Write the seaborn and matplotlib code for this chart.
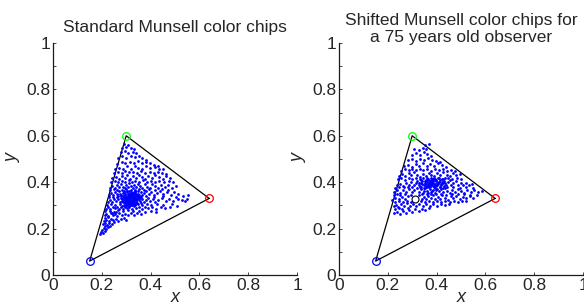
import matplotlib
matplotlib.use("Agg")
import matplotlib.pyplot as plt
import pandas as pd
import seaborn as sns

# sRGB primaries and white point (CIE xy)
primary_x = [0.64, 0.30, 0.15]
primary_y = [0.33, 0.60, 0.06]
primary_colors = ["red", "lime", "blue"]
white_x = [0.3127]
white_y = [0.3290]

# Munsell chips, standard observer
std_chips = [
    (0.193, 0.178), (0.198, 0.186), (0.205, 0.182), (0.201, 0.195), (0.212, 0.191), (0.208, 0.203),
    (0.219, 0.199), (0.226, 0.206), (0.214, 0.210), (0.233, 0.212),
    (0.205, 0.218), (0.213, 0.222), (0.222, 0.217), (0.231, 0.224), (0.242, 0.219), (0.251, 0.228),
    (0.209, 0.233), (0.218, 0.238), (0.228, 0.232), (0.237, 0.241), (0.247, 0.236), (0.259, 0.242),
    (0.268, 0.233), (0.279, 0.240), (0.292, 0.246), (0.213, 0.247), (0.224, 0.249), (0.301, 0.238),
    (0.211, 0.258), (0.219, 0.262), (0.227, 0.255), (0.236, 0.266), (0.244, 0.258), (0.253, 0.264),
    (0.262, 0.256), (0.271, 0.268), (0.283, 0.259), (0.294, 0.265), (0.306, 0.257), (0.318, 0.268),
    (0.331, 0.260), (0.346, 0.266), (0.362, 0.262), (0.215, 0.274), (0.232, 0.278), (0.249, 0.273),
    (0.266, 0.279), (0.288, 0.275), (0.309, 0.279), (0.327, 0.274), (0.352, 0.278), (0.378, 0.272),
    (0.401, 0.276), (0.424, 0.271), (0.258, 0.270), (0.241, 0.269),
    (0.217, 0.286), (0.226, 0.291), (0.235, 0.284), (0.244, 0.293), (0.253, 0.287), (0.262, 0.295),
    (0.271, 0.286), (0.279, 0.292), (0.288, 0.284), (0.296, 0.297), (0.305, 0.289), (0.313, 0.294),
    (0.322, 0.286), (0.331, 0.296), (0.341, 0.288), (0.352, 0.293), (0.364, 0.285), (0.377, 0.292),
    (0.391, 0.287), (0.407, 0.294), (0.423, 0.286), (0.441, 0.291), (0.459, 0.287), (0.478, 0.294),
    (0.221, 0.302), (0.238, 0.306), (0.256, 0.301), (0.274, 0.307), (0.291, 0.302), (0.302, 0.308),
    (0.316, 0.303), (0.328, 0.309), (0.337, 0.301), (0.349, 0.307), (0.366, 0.302), (0.384, 0.308),
    (0.403, 0.301), (0.426, 0.306), (0.452, 0.303), (0.487, 0.304), (0.509, 0.299), (0.283, 0.299),
    (0.297, 0.291), (0.309, 0.298), (0.321, 0.301),
    (0.224, 0.314), (0.233, 0.322), (0.242, 0.316), (0.251, 0.326), (0.259, 0.318), (0.267, 0.329),
    (0.274, 0.313), (0.281, 0.321), (0.287, 0.331), (0.293, 0.316), (0.298, 0.325), (0.302, 0.334),
    (0.306, 0.312), (0.309, 0.321), (0.312, 0.329), (0.315, 0.317), (0.318, 0.336), (0.321, 0.324),
    (0.324, 0.313), (0.327, 0.331), (0.331, 0.319), (0.334, 0.327), (0.338, 0.336), (0.342, 0.314),
    (0.346, 0.323), (0.351, 0.332), (0.357, 0.318), (0.363, 0.327), (0.371, 0.314), (0.379, 0.324),
    (0.388, 0.333), (0.397, 0.318), (0.408, 0.327), (0.419, 0.315), (0.432, 0.323), (0.446, 0.331),
    (0.461, 0.317), (0.476, 0.326), (0.492, 0.319), (0.511, 0.327), (0.529, 0.322), (0.548, 0.329),
    (0.229, 0.335), (0.247, 0.338), (0.263, 0.336), (0.278, 0.339), (0.291, 0.338), (0.304, 0.318),
    (0.296, 0.309), (0.313, 0.339), (0.325, 0.338), (0.336, 0.311), (0.344, 0.339), (0.359, 0.338),
    (0.383, 0.339), (0.414, 0.337), (0.451, 0.339), (0.503, 0.336), (0.541, 0.318), (0.286, 0.314),
    (0.319, 0.309), (0.329, 0.316), (0.311, 0.325), (0.323, 0.319), (0.339, 0.322), (0.301, 0.328),
    (0.316, 0.333),
    (0.228, 0.346), (0.237, 0.352), (0.246, 0.344), (0.255, 0.356), (0.263, 0.348), (0.271, 0.361),
    (0.279, 0.343), (0.286, 0.353), (0.292, 0.364), (0.297, 0.345), (0.302, 0.356), (0.307, 0.348),
    (0.311, 0.362), (0.316, 0.344), (0.321, 0.354), (0.326, 0.347), (0.331, 0.359), (0.336, 0.342),
    (0.341, 0.351), (0.347, 0.363), (0.353, 0.346), (0.359, 0.356), (0.366, 0.343), (0.374, 0.353),
    (0.383, 0.362), (0.392, 0.347), (0.402, 0.357), (0.413, 0.344), (0.425, 0.354), (0.438, 0.363),
    (0.451, 0.348), (0.466, 0.358), (0.482, 0.346), (0.497, 0.356), (0.514, 0.347), (0.532, 0.341),
    (0.555, 0.343), (0.233, 0.366), (0.249, 0.369), (0.264, 0.367), (0.283, 0.368), (0.299, 0.369),
    (0.318, 0.367), (0.334, 0.368), (0.351, 0.369), (0.371, 0.367), (0.394, 0.369), (0.418, 0.367),
    (0.446, 0.369), (0.473, 0.366), (0.306, 0.339), (0.322, 0.341), (0.313, 0.351), (0.328, 0.352),
    (0.296, 0.351), (0.338, 0.357),
    (0.235, 0.376), (0.243, 0.384), (0.252, 0.374), (0.261, 0.389), (0.269, 0.378), (0.277, 0.393),
    (0.285, 0.381), (0.293, 0.374), (0.299, 0.388), (0.306, 0.379), (0.313, 0.395), (0.319, 0.383),
    (0.326, 0.374), (0.333, 0.389), (0.341, 0.378), (0.349, 0.394), (0.357, 0.384), (0.366, 0.375),
    (0.375, 0.391), (0.385, 0.381), (0.396, 0.376), (0.407, 0.392), (0.419, 0.383), (0.431, 0.374),
    (0.444, 0.389), (0.458, 0.379), (0.472, 0.388), (0.488, 0.377), (0.503, 0.385), (0.239, 0.399),
    (0.254, 0.404), (0.268, 0.401), (0.284, 0.407), (0.297, 0.402), (0.311, 0.408), (0.324, 0.401),
    (0.338, 0.406), (0.353, 0.402), (0.368, 0.408), (0.384, 0.401), (0.401, 0.406), (0.418, 0.402),
    (0.436, 0.407), (0.455, 0.401), (0.474, 0.404), (0.491, 0.399),
    (0.243, 0.416), (0.257, 0.423), (0.271, 0.414), (0.283, 0.427), (0.294, 0.419), (0.304, 0.432),
    (0.315, 0.415), (0.327, 0.426), (0.339, 0.418), (0.351, 0.433), (0.364, 0.421), (0.377, 0.414),
    (0.391, 0.428), (0.405, 0.419), (0.419, 0.431), (0.434, 0.422), (0.449, 0.415), (0.463, 0.427),
    (0.478, 0.419), (0.249, 0.438), (0.266, 0.445), (0.281, 0.441), (0.297, 0.447), (0.312, 0.442),
    (0.329, 0.446), (0.344, 0.439), (0.361, 0.447), (0.378, 0.441), (0.396, 0.446), (0.413, 0.438),
    (0.431, 0.446), (0.448, 0.441), (0.465, 0.437),
    (0.255, 0.456), (0.272, 0.463), (0.288, 0.455), (0.303, 0.468), (0.318, 0.458), (0.334, 0.471),
    (0.349, 0.461), (0.366, 0.456), (0.382, 0.469), (0.399, 0.461), (0.416, 0.466), (0.433, 0.458),
    (0.449, 0.455), (0.262, 0.479), (0.281, 0.486), (0.297, 0.481), (0.314, 0.489), (0.331, 0.483),
    (0.348, 0.491), (0.364, 0.484), (0.381, 0.489), (0.398, 0.481), (0.415, 0.476), (0.429, 0.468),
    (0.268, 0.503), (0.284, 0.512), (0.301, 0.506), (0.318, 0.514), (0.334, 0.507), (0.351, 0.512),
    (0.366, 0.505), (0.382, 0.497), (0.277, 0.528), (0.293, 0.534), (0.309, 0.527), (0.326, 0.531),
    (0.342, 0.524), (0.284, 0.548), (0.301, 0.553), (0.318, 0.546), (0.331, 0.541), (0.292, 0.566),
    (0.306, 0.559),
    (0.301, 0.316), (0.305, 0.331), (0.308, 0.342), (0.312, 0.311), (0.314, 0.348), (0.317, 0.322),
    (0.320, 0.337), (0.323, 0.346), (0.326, 0.308), (0.329, 0.344), (0.332, 0.333), (0.335, 0.349),
    (0.337, 0.328), (0.340, 0.343), (0.343, 0.331), (0.346, 0.312), (0.348, 0.341), (0.291, 0.322),
    (0.288, 0.341), (0.294, 0.333), (0.297, 0.342), (0.284, 0.328), (0.279, 0.331), (0.299, 0.302),
    (0.311, 0.306), (0.324, 0.303), (0.336, 0.306), (0.318, 0.315), (0.309, 0.336), (0.327, 0.323),
    (0.352, 0.326), (0.356, 0.338), (0.361, 0.311), (0.302, 0.361), (0.318, 0.357), (0.334, 0.364),
    (0.289, 0.357), (0.348, 0.351), (0.276, 0.348), (0.268, 0.341),
]

# Munsell chips as seen by a 75 years old observer
old_chips = [
    (0.226, 0.266), (0.238, 0.272), (0.251, 0.263), (0.262, 0.276), (0.274, 0.268), (0.287, 0.279),
    (0.299, 0.271), (0.231, 0.283), (0.246, 0.287), (0.259, 0.284), (0.281, 0.288), (0.312, 0.283),
    (0.326, 0.277), (0.339, 0.286), (0.353, 0.281), (0.368, 0.289),
    (0.224, 0.296), (0.233, 0.303), (0.242, 0.294), (0.254, 0.306), (0.266, 0.298), (0.277, 0.309),
    (0.289, 0.297), (0.302, 0.305), (0.316, 0.296), (0.329, 0.307), (0.343, 0.299), (0.357, 0.306),
    (0.371, 0.297), (0.386, 0.304), (0.402, 0.298), (0.418, 0.306), (0.433, 0.301), (0.449, 0.308),
    (0.229, 0.314), (0.244, 0.318), (0.261, 0.313), (0.279, 0.319), (0.296, 0.316), (0.334, 0.318),
    (0.351, 0.313), (0.368, 0.319), (0.384, 0.314), (0.401, 0.318), (0.419, 0.313), (0.436, 0.319),
    (0.454, 0.314), (0.471, 0.318), (0.488, 0.313), (0.505, 0.317), (0.521, 0.319),
    (0.218, 0.324), (0.231, 0.331), (0.245, 0.327), (0.258, 0.336), (0.271, 0.328), (0.284, 0.339),
    (0.297, 0.343), (0.339, 0.329), (0.348, 0.338), (0.357, 0.326), (0.366, 0.341), (0.375, 0.332),
    (0.385, 0.345), (0.394, 0.328), (0.404, 0.338), (0.414, 0.326), (0.424, 0.343), (0.435, 0.333),
    (0.446, 0.325), (0.457, 0.339), (0.468, 0.331), (0.481, 0.342), (0.494, 0.328), (0.507, 0.337),
    (0.521, 0.332), (0.536, 0.341), (0.551, 0.334), (0.566, 0.343), (0.224, 0.346), (0.239, 0.349),
    (0.252, 0.344), (0.269, 0.348), (0.327, 0.346), (0.342, 0.349), (0.359, 0.347), (0.377, 0.349),
    (0.399, 0.347), (0.417, 0.349), (0.439, 0.346), (0.462, 0.349), (0.487, 0.347), (0.512, 0.349),
    (0.538, 0.346),
    (0.226, 0.357), (0.238, 0.365), (0.251, 0.355), (0.263, 0.368), (0.275, 0.359), (0.287, 0.371),
    (0.298, 0.356), (0.309, 0.366), (0.318, 0.376), (0.327, 0.359), (0.336, 0.369), (0.344, 0.354),
    (0.352, 0.374), (0.359, 0.362), (0.366, 0.352), (0.372, 0.371), (0.379, 0.359), (0.386, 0.368),
    (0.393, 0.354), (0.401, 0.372), (0.409, 0.361), (0.417, 0.369), (0.426, 0.356), (0.435, 0.373),
    (0.444, 0.362), (0.454, 0.354), (0.464, 0.368), (0.475, 0.359), (0.487, 0.372), (0.499, 0.361),
    (0.512, 0.355), (0.525, 0.367), (0.539, 0.358), (0.553, 0.366), (0.569, 0.357), (0.584, 0.362),
    (0.231, 0.377), (0.247, 0.379), (0.266, 0.378), (0.283, 0.379), (0.301, 0.378), (0.336, 0.379),
    (0.362, 0.379), (0.389, 0.378), (0.414, 0.379), (0.441, 0.378), (0.468, 0.379), (0.496, 0.377),
    (0.521, 0.379), (0.548, 0.376), (0.347, 0.364), (0.383, 0.363), (0.397, 0.366),
    (0.236, 0.386), (0.249, 0.393), (0.262, 0.385), (0.274, 0.397), (0.286, 0.388), (0.297, 0.401),
    (0.306, 0.389), (0.314, 0.398), (0.321, 0.407), (0.328, 0.386), (0.334, 0.396), (0.341, 0.405),
    (0.347, 0.388), (0.353, 0.398), (0.358, 0.411), (0.363, 0.386), (0.368, 0.397), (0.372, 0.406),
    (0.376, 0.389), (0.381, 0.399), (0.385, 0.412), (0.389, 0.385), (0.394, 0.394), (0.398, 0.404),
    (0.403, 0.389), (0.408, 0.399), (0.414, 0.409), (0.419, 0.386), (0.425, 0.396), (0.431, 0.406),
    (0.438, 0.389), (0.445, 0.399), (0.453, 0.408), (0.461, 0.386), (0.469, 0.396), (0.478, 0.405),
    (0.488, 0.389), (0.498, 0.398), (0.509, 0.387), (0.521, 0.396), (0.533, 0.388), (0.546, 0.394),
    (0.241, 0.412), (0.256, 0.416), (0.271, 0.411), (0.287, 0.417), (0.301, 0.413), (0.316, 0.418),
    (0.331, 0.412), (0.346, 0.417), (0.364, 0.415), (0.379, 0.419), (0.395, 0.414), (0.411, 0.418),
    (0.428, 0.413), (0.446, 0.419), (0.464, 0.414), (0.483, 0.417), (0.502, 0.412), (0.371, 0.392),
    (0.379, 0.403), (0.387, 0.396), (0.361, 0.402), (0.392, 0.408), (0.367, 0.388), (0.401, 0.396),
    (0.356, 0.394), (0.375, 0.411), (0.383, 0.391),
    (0.246, 0.426), (0.259, 0.434), (0.272, 0.425), (0.285, 0.438), (0.297, 0.429), (0.309, 0.442),
    (0.321, 0.431), (0.333, 0.424), (0.344, 0.437), (0.356, 0.428), (0.367, 0.441), (0.379, 0.432),
    (0.391, 0.425), (0.403, 0.439), (0.415, 0.429), (0.428, 0.443), (0.441, 0.433), (0.454, 0.426),
    (0.467, 0.438), (0.481, 0.429), (0.494, 0.436), (0.256, 0.449), (0.271, 0.455), (0.286, 0.451),
    (0.301, 0.457), (0.316, 0.452), (0.331, 0.458), (0.346, 0.451), (0.361, 0.456), (0.377, 0.449),
    (0.393, 0.455), (0.409, 0.451), (0.425, 0.457), (0.441, 0.449), (0.458, 0.454), (0.474, 0.447),
    (0.268, 0.468), (0.284, 0.475), (0.299, 0.467), (0.314, 0.479), (0.329, 0.471), (0.344, 0.482),
    (0.359, 0.469), (0.374, 0.478), (0.389, 0.471), (0.405, 0.481), (0.421, 0.472), (0.437, 0.467),
    (0.283, 0.494), (0.299, 0.499), (0.316, 0.492), (0.332, 0.501), (0.348, 0.495), (0.364, 0.503),
    (0.381, 0.497), (0.398, 0.491), (0.414, 0.486),
    (0.298, 0.518), (0.314, 0.526), (0.331, 0.519), (0.347, 0.529), (0.361, 0.521), (0.376, 0.514),
    (0.309, 0.543), (0.326, 0.538), (0.344, 0.547), (0.358, 0.541), (0.367, 0.566), (0.352, 0.559),
    (0.352, 0.405), (0.357, 0.384), (0.362, 0.418), (0.366, 0.409), (0.369, 0.381), (0.373, 0.399),
    (0.377, 0.384), (0.380, 0.414), (0.384, 0.404), (0.388, 0.419), (0.391, 0.389), (0.396, 0.411),
    (0.399, 0.383), (0.404, 0.416), (0.407, 0.392), (0.411, 0.403), (0.416, 0.391), (0.421, 0.414),
    (0.423, 0.402), (0.429, 0.384), (0.433, 0.397), (0.436, 0.418), (0.342, 0.392), (0.338, 0.411),
    (0.347, 0.376), (0.326, 0.398), (0.331, 0.381), (0.412, 0.378), (0.426, 0.376), (0.392, 0.373),
]

titles = ["Standard Munsell color chips",
          "Shifted Munsell color chips for\na 75 years old observer"]
title_y = [None, 0.955]
major_ticks = [0, 0.2, 0.4, 0.6, 0.8, 1]
tick_labels = ["0", "0.2", "0.4", "0.6", "0.8", "1"]
minor_y_ticks = [0.1, 0.3, 0.5, 0.7, 0.9]

sns.set_style("ticks")
plt.rcParams["font.family"] = ["Liberation Sans", "DejaVu Sans"]
text_col = "#262626"

fig = plt.figure(figsize=(5.84, 3.07), dpi=100)
ax1 = fig.add_axes([0.0908, 0.1042, 0.4178, 0.7558])
ax2 = fig.add_axes([0.5805, 0.1042, 0.4178, 0.7558])

tri = pd.DataFrame({"x": primary_x + primary_x[:1], "y": primary_y + primary_y[:1]})

for ax, chips, title, ty in zip([ax1, ax2], [std_chips, old_chips], titles, title_y):
    df = pd.DataFrame(chips, columns=["x", "y"])
    ax.plot(tri["x"], tri["y"], color="black", lw=0.9, zorder=1)
    ax.plot(white_x, white_y, "o", mfc="none", mec="black", ms=5, mew=0.8, zorder=1)
    sns.scatterplot(data=df, x="x", y="y", ax=ax, color="blue", s=4,
                    marker="o", linewidth=0, zorder=2)
    for px, py, c in zip(primary_x, primary_y, primary_colors):
        ax.plot(px, py, "o", mfc="none", mec=c, ms=5.5, mew=0.9, zorder=3)

    ax.set_xlim(0, 1)
    ax.set_ylim(0, 1)
    ax.set_xticks(major_ticks, tick_labels)
    ax.set_yticks(major_ticks, tick_labels)
    ax.set_yticks(minor_y_ticks, minor=True)
    ax.tick_params(which="both", direction="in", length=2.5, width=0.6,
                   labelsize=12.5, colors=text_col, labelcolor=text_col, pad=2)
    for s in ["top", "right"]:
        ax.spines[s].set_visible(False)
    for s in ["left", "bottom"]:
        ax.spines[s].set_color("#1a1a1a")
        ax.spines[s].set_linewidth(0.9)
    ax.set_xlabel("x", fontsize=13, style="italic", color=text_col, labelpad=-3)
    ax.set_ylabel("y", fontsize=13, style="italic", color=text_col, labelpad=4)
    if ty is None:
        ax.set_title(title, fontsize=12.5, color=text_col, pad=8)
    else:
        ax.set_title(title, fontsize=12.5, color=text_col, pad=8, y=ty,
                     linespacing=1.2)

fig.savefig("out.png", dpi=100)
